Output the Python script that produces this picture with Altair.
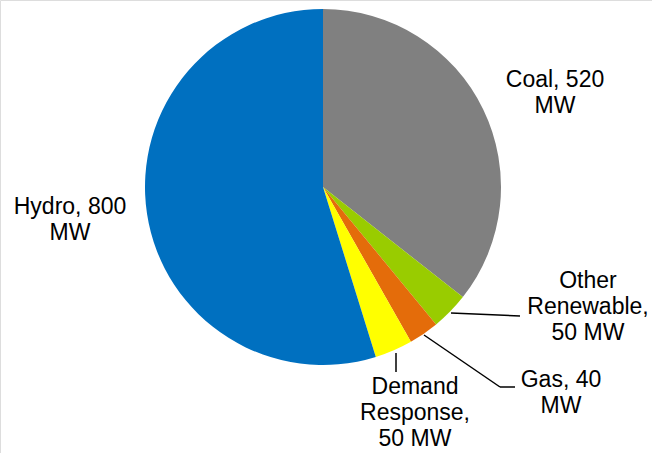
import altair as alt
import pandas as pd

sources = ["Coal", "Other Renewable", "Gas", "Demand Response", "Hydro"]
mw = [520, 50, 40, 50, 800]
colors = ["#808080", "#99CC00", "#E46C0A", "#FFFF00", "#0070C0"]
label_lines = [
    ["Coal, 520", "MW"],
    ["Other", "Renewable,", "50 MW"],
    ["Gas, 40", "MW"],
    ["Demand", "Response,", "50 MW"],
    ["Hydro, 800", "MW"],
]

df = pd.DataFrame({"source": sources, "mw": mw, "idx": list(range(len(sources)))})

CX, CY, R = 323, 187, 178
FONT = "Liberation Sans"
FS = 23
LH = 26

pie = alt.Chart(df).mark_arc(radius=R, stroke=None).encode(
    theta=alt.Theta("mw:Q", stack=True),
    color=alt.Color("source:N", scale=alt.Scale(domain=sources, range=colors), legend=None),
    order=alt.Order("idx:Q"),
    x=alt.value(CX),
    y=alt.value(CY),
)

# position of first line centre for each label
label_pos = [(555, 80), (588, 281), (561, 380), (415, 387), (70, 207)]
layers = [pie]
base = alt.Chart(df)
for lines, (lx, ly) in zip(label_lines, label_pos):
    layers.append(
        base.transform_filter(alt.datum.idx == 0).mark_text(
            text=lines, font=FONT, fontSize=FS, lineHeight=LH, align="center",
            baseline="middle", color="#000000"
        ).encode(x=alt.value(lx), y=alt.value(ly))
    )

leaders = [
    ((451, 313), (520, 316)),
    ((424, 335), (500, 387)),
    ((500, 387), (515, 387)),
    ((396, 353), (396, 372)),
]
for (x1, y1), (x2, y2) in leaders:
    layers.append(
        base.transform_filter(alt.datum.idx == 0).mark_rule(color="#000000", strokeWidth=1.5).encode(
            x=alt.value(x1), y=alt.value(y1), x2=alt.value(x2), y2=alt.value(y2)
        )
    )

chart = alt.layer(*layers).properties(
    width=652, height=453, autosize=alt.AutoSizeParams(type="none"), padding=0
).configure_view(stroke=None).configure(background="white")

chart.save("out.html", embed_options={"renderer": "svg", "actions": False})
